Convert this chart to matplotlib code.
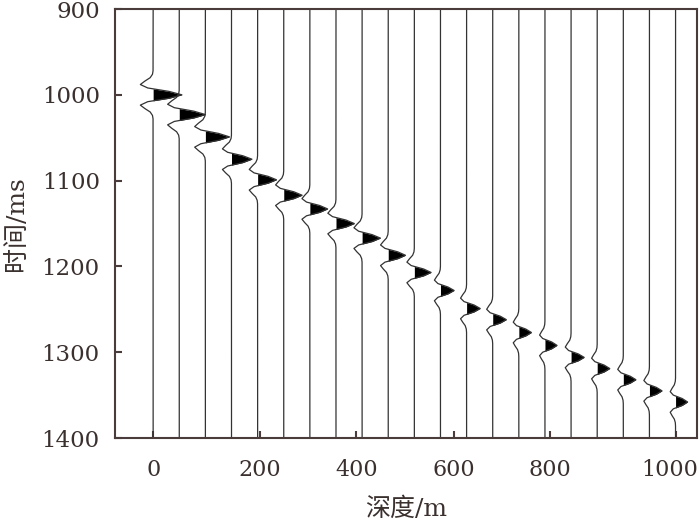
import matplotlib
matplotlib.use('Agg')
import matplotlib.pyplot as plt
import matplotlib.transforms as mtransforms
import numpy as np

# trace depths (m), first-arrival times (ms) and peak amplitudes (m of offset)
depths = np.arange(0, 1001, 50)
arrivals = [1000, 1023, 1049, 1075, 1099, 1117, 1133, 1150, 1167, 1187, 1207,
            1228, 1249, 1262, 1277, 1292, 1306, 1319, 1332, 1345, 1358]
amps = [55, 50, 46, 39, 36, 35, 34, 35, 35, 33, 32,
        26, 26, 26, 24, 23, 25, 24, 24, 24, 23]

xtick_pos = [0, 205, 389, 575, 760, 1000]
xtick_labels = ['0', '200', '400', '600', '800', '1000']
yticks = [900, 1000, 1100, 1200, 1300, 1400]

freq = 33.0   # Hz
dt = 4.0      # ms sample interval
n = np.arange(-7, 8)

text_c = '#3a302e'
spine_c = '#4a3c3a'
serif = ['DejaVu Serif', 'Noto Sans CJK SC']

fig = plt.figure(figsize=(7, 5.25), dpi=100)
ax = fig.add_axes([0.1643, 0.1657, 0.8314, 0.8171])

for d, t0, a in zip(depths, arrivals, amps):
    ts = t0 + n * dt
    tau = (ts - t0) / 1000.0
    arg = (np.pi * freq * tau) ** 2
    w = (1 - 2 * arg) * np.exp(-arg)
    t = np.concatenate([[900], ts, [1400]])
    x = np.concatenate([[d], d + a * w, [d]])
    ax.plot(x, t, color='#333333', lw=0.9)
    ax.fill_betweenx(t, d, x, where=x > d, interpolate=True, color='black', lw=0)

ax.set_xlim(-73, 1041)
ax.set_ylim(1400, 900)
ax.set_xticks(xtick_pos)
ax.set_xticklabels(xtick_labels)
ax.set_yticks(yticks)

for s in ax.spines.values():
    s.set_color(spine_c)
    s.set_linewidth(1.5)

ax.tick_params(axis='x', direction='in', length=5, width=1.5, color=spine_c,
               labelcolor=text_c, labelsize=16, pad=15)
ax.tick_params(axis='y', direction='in', length=5, width=1.5, color=spine_c,
               labelcolor=text_c, labelsize=16.5, pad=11)
for lab in ax.get_xticklabels() + ax.get_yticklabels():
    lab.set_family('DejaVu Serif')

# keep the last x label inside the canvas
last = ax.get_xticklabels()[-1]
last.set_transform(last.get_transform() +
                   mtransforms.ScaledTranslation(-4 / 72, 0, fig.dpi_scale_trans))

ax.set_xlabel('深度/m', family=serif, fontsize=18, color=text_c, labelpad=12)
ax.set_ylabel('时间/ms', family=serif, fontsize=18, color=text_c, labelpad=10)

fig.savefig('out.png', dpi=100)
